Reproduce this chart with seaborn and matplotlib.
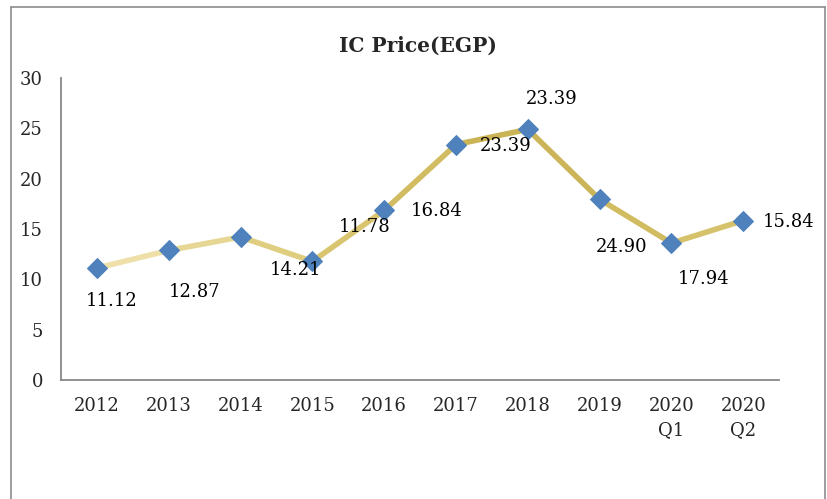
import matplotlib
matplotlib.use("Agg")
import matplotlib.pyplot as plt
from matplotlib.collections import LineCollection
from matplotlib.colors import LinearSegmentedColormap
from matplotlib.lines import Line2D
import seaborn as sns
import pandas as pd
import numpy as np

# data
periods = ["2012", "2013", "2014", "2015", "2016", "2017", "2018", "2019", "2020\nQ1", "2020\nQ2"]
prices = [11.12, 12.87, 14.21, 11.78, 16.84, 23.39, 24.90, 17.94, 13.6, 15.84]
# data labels as they appear in the original (shifted)
label_texts = ["11.12", "12.87", "14.21", "11.78", "16.84", "23.39", "23.39", "24.90", "17.94", "15.84"]
label_offsets = [(15, -33), (26, -42), (55, -33), (52, 34), (52, -1),
                 (50, -1), (24, 30), (22, -48), (32, -36), (45, -1)]  # pixels from marker

df = pd.DataFrame({"period": periods, "price": prices})
df["pos"] = np.arange(len(df))

sns.set_style("white")
plt.rcParams["font.family"] = ["DejaVu Serif"]
FS = 13

fig = plt.figure(figsize=(8.27, 4.99), dpi=100)
ax = fig.add_axes([0.0738, 0.2385, 0.9422 - 0.0738, 0.8437 - 0.2385])

# gold line with a gradient stroke
pts = df[["pos", "price"]].to_numpy()
segs = np.stack([pts[:-1], pts[1:]], axis=1)
cmap = LinearSegmentedColormap.from_list("gold", ["#EEE0A8", "#DBC873", "#C9B152", "#D6C26A"])
lc = LineCollection(segs, colors=cmap(np.linspace(0, 1, len(segs))), linewidths=4.0,
                    capstyle="round", joinstyle="round", zorder=2)
ax.add_collection(lc)

sns.lineplot(data=df, x="pos", y="price", ax=ax, linestyle="none", marker="D",
             markersize=10, color="#4F81BD", markeredgecolor="#4F81BD", zorder=3)

for (x, y), txt, (dx, dy) in zip(pts, label_texts, label_offsets):
    ax.annotate(txt, (x, y), xytext=(dx * 0.72, dy * 0.72), textcoords="offset points",
                ha="center", va="center", fontsize=FS, color="black", zorder=4)

ax.set_xlim(-0.5, len(periods) - 0.5)
ax.set_ylim(0, 30)
ax.set_yticks(range(0, 31, 5))
ax.set_xticks(np.arange(-0.5, len(periods)), labels=[""] * (len(periods) + 1))
ax.set_xticks(df["pos"], labels=periods, minor=True)
ax.tick_params(axis="x", which="major", length=6, width=1.3, color="#888888", direction="out")
ax.tick_params(axis="x", which="minor", length=0, pad=12, labelsize=FS)
ax.tick_params(axis="y", length=6, width=1.3, color="#888888", direction="out", labelsize=FS, pad=7)
for lab in ax.get_xticklabels(minor=True):
    lab.set_linespacing(1.45)

for s in ["top", "right"]:
    ax.spines[s].set_visible(False)
for s in ["left", "bottom"]:
    ax.spines[s].set_color("#888888")
    ax.spines[s].set_linewidth(1.3)
ax.set_xlabel("")
ax.set_ylabel("")

fig.text(0.505, 0.908, "IC Price(EGP)", ha="center", va="center", fontsize=14.5, fontweight="bold")

# outer chart frame
frame_kw = dict(color="#8C8C8C", linewidth=1.2, transform=fig.transFigure)
fig.add_artist(Line2D([0.0133, 0.0133], [0, 0.986], **frame_kw))
fig.add_artist(Line2D([0.0133, 0.9976], [0.986, 0.986], **frame_kw))
fig.add_artist(Line2D([0.9976, 0.9976], [0, 0.986], **frame_kw))

fig.savefig("out.png", dpi=100)
